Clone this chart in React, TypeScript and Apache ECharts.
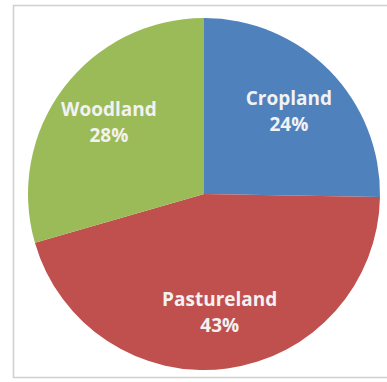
import React, { useEffect, useRef } from "react";
import * as echarts from "echarts";

const categories = ["Cropland", "Pastureland", "Woodland"];
const values = [24, 43, 28];
const colors = ["#4F81BD", "#C0504D", "#9BBB59"];

export default function App() {
  const ref = useRef<HTMLDivElement>(null);
  useEffect(() => {
    if (!ref.current) return;
    const chart = echarts.init(ref.current, null, { renderer: "svg" });
    const data = categories.map((name, i) => ({
      name,
      value: values[i],
      itemStyle: { color: colors[i] },
    }));
    chart.setOption({
      animation: false,
      backgroundColor: "#ffffff",
      graphic: [
        {
          type: "rect",
          shape: { x: 13.5, y: 5.5, width: 390, height: 372 },
          style: { fill: "none", stroke: "#D0D0D0", lineWidth: 1.5 },
          silent: true,
          z: 0,
        },
      ],
      series: [
        {
          type: "pie",
          center: [204, 194],
          radius: [0, 176],
          startAngle: 90,
          clockwise: true,
          silent: true,
          label: { show: false },
          labelLine: { show: false },
          itemStyle: { borderWidth: 0 },
          data,
          z: 2,
        },
        {
          type: "pie",
          center: [204, 194],
          radius: [56, 176],
          startAngle: 90,
          clockwise: true,
          silent: true,
          itemStyle: { color: "transparent", borderWidth: 0 },
          label: {
            show: true,
            position: "inside",
            formatter: "{b}\n{c}%",
            color: "#F2F2F2",
            fontFamily: "Open Sans",
            fontWeight: "bold",
            fontSize: 19,
            lineHeight: 26,
          },
          labelLine: { show: false },
          data: categories.map((name, i) => ({ name, value: values[i] })),
          z: 3,
        },
      ],
    });
    return () => chart.dispose();
  }, []);
  return (
    <div
      ref={ref}
      style={{ position: "fixed", left: 0, top: 0, width: 387, height: 382 }}
    />
  );
}
